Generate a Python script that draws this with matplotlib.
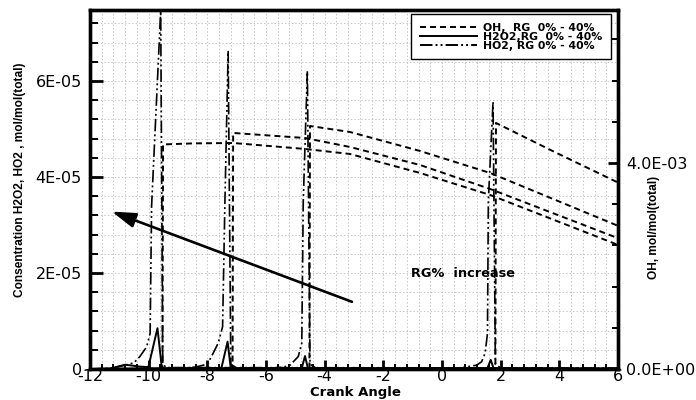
import matplotlib
matplotlib.use("Agg")
import matplotlib.pyplot as plt
from matplotlib.ticker import MultipleLocator, FixedLocator
from matplotlib.lines import Line2D
from matplotlib.patches import ArrowStyle

plt.rcParams['font.family'] = ['DejaVu Sans']
plt.rcParams['axes.unicode_minus'] = False
plt.rcParams['lines.scale_dashes'] = False

# ---------------- data ----------------
# HO2 (left axis), four RG cases
ho2_x_a = [-12, -11.3, -10.8, -10.5, -10.3, -10.07, -9.95, -9.90, -9.59, -9.52, -9.4, 6]
ho2_y_a = [0, 0.15e-6, 0.8e-6, 1.3e-6, 2.6e-6, 4.6e-6, 7.4e-6, 3.4e-5, 7.46e-5, 1.0e-6, 0.3e-6, 0.2e-6]
ho2_x_b = [-12, -9.0, -8.4, -8.0, -7.80, -7.63, -7.48, -7.40, -7.29, -7.20, -7.0, 6]
ho2_y_b = [0, 0.1e-6, 0.4e-6, 1.0e-6, 3.3e-6, 5.4e-6, 8.8e-6, 3.5e-5, 6.63e-5, 1.0e-6, 0.2e-6, 0.1e-6]
ho2_x_c = [-12, -6.0, -5.4, -5.18, -4.90, -4.78, -4.73, -4.59, -4.50, -4.3, 6]
ho2_y_c = [0, 0.1e-6, 0.4e-6, 0.8e-6, 2.6e-6, 5.4e-6, 3.5e-5, 6.21e-5, 1.0e-6, 0.2e-6, 0.1e-6]
ho2_x_d = [-12, 0.0, 0.6, 1.18, 1.35, 1.47, 1.55, 1.58, 1.74, 1.82, 2.0, 6]
ho2_y_d = [0, 0.05e-6, 0.2e-6, 0.8e-6, 1.5e-6, 3.3e-6, 7.4e-6, 3.5e-5, 5.57e-5, 1.0e-6, 0.2e-6, 0.1e-6]

# H2O2 (left axis)
h2o2_x_a = [-12, -11.3, -10.8, -10.3, -10.01, -9.70, -9.55, -9.3, 6]
h2o2_y_a = [0, 0.1e-6, 0.9e-6, 0.5e-6, 0.4e-6, 8.5e-6, 0.2e-6, 0, 0]
h2o2_x_b = [-12, -7.52, -7.31, -7.20, 6]
h2o2_y_b = [0, 0.2e-6, 5.7e-6, 0.1e-6, 0]
h2o2_x_c = [-12, -4.78, -4.67, -4.57, 6]
h2o2_y_c = [0, 0.2e-6, 2.7e-6, 0.1e-6, 0]
h2o2_x_d = [-12, 1.55, 1.66, 1.76, 6]
h2o2_y_d = [0, 0.2e-6, 1.9e-6, 0.1e-6, 0]

# OH (right axis)
oh_x_a = [-12, -9.53, -9.51, -8.5, -7.12, -4.67, -3.14, -0.75, 1.64, 6.0]
oh_y_a = [0, 0, 4.36e-3, 4.38e-3, 4.388e-3, 4.272e-3, 4.175e-3, 3.806e-3, 3.379e-3, 2.41e-3]
oh_x_b = [-12, -7.14, -7.12, -4.67, -3.14, -0.75, 1.64, 6.0]
oh_y_b = [0, 0, 4.583e-3, 4.485e-3, 4.311e-3, 3.961e-3, 3.495e-3, 2.54e-3]
oh_x_c = [-12, -4.52, -4.50, -3.14, -0.75, 1.64, 6.0]
oh_y_c = [0, 0, 4.718e-3, 4.602e-3, 4.233e-3, 3.806e-3, 2.78e-3]
oh_x_d = [-12, 1.82, 1.84, 3.85, 6.0]
oh_y_d = [0, 0, 4.777e-3, 4.21e-3, 3.62e-3]

x_ticks = [-12, -10, -8, -6, -4, -2, 0, 2, 4, 6]
left_ticks = [0, 2e-5, 4e-5, 6e-5]
left_labels = ['0', '2E-05', '4E-05', '6E-05']
right_ticks = [0, 4e-3]
right_labels = ['0.0E+00', '4.0E-03']

legend_labels = ['OH,  RG  0% - 40%', 'H2O2,RG  0% - 40%', 'HO2, RG 0% - 40%']

# ---------------- styles ----------------
DASH = (0, (4.3, 2.9))
DDOT = (0, (9.0, 2.2, 1.4, 2.2, 1.4, 2.2))
LW = 1.4

fig = plt.figure(figsize=(6.96, 4.0), dpi=100)
ax = fig.add_axes([90/696, 31/400, 528/696, 359/400])
ax2 = ax.twinx()

ax.set_xlim(-12, 6)
ax.set_ylim(0, 7.48e-5)
ax2.set_ylim(0, 6.97e-3)

for xs, ys in [(h2o2_x_a, h2o2_y_a), (h2o2_x_b, h2o2_y_b), (h2o2_x_c, h2o2_y_c), (h2o2_x_d, h2o2_y_d)]:
    ax.plot(xs, ys, color='black', lw=LW, linestyle='-')
for xs, ys in [(ho2_x_a, ho2_y_a), (ho2_x_b, ho2_y_b), (ho2_x_c, ho2_y_c), (ho2_x_d, ho2_y_d)]:
    ax.plot(xs, ys, color='black', lw=1.2, linestyle=DDOT)
for xs, ys in [(oh_x_a, oh_y_a), (oh_x_b, oh_y_b), (oh_x_c, oh_y_c), (oh_x_d, oh_y_d)]:
    ax2.plot(xs, ys, color='black', lw=LW, linestyle=DASH)

# ticks
ax.xaxis.set_major_locator(FixedLocator(x_ticks))
ax.xaxis.set_minor_locator(MultipleLocator(0.4))
ax.set_xticklabels([str(v) for v in x_ticks])
ax.yaxis.set_major_locator(FixedLocator(left_ticks))
ax.yaxis.set_minor_locator(MultipleLocator(0.4e-5))
ax.set_yticklabels(left_labels)
ax2.yaxis.set_major_locator(FixedLocator(right_ticks))
ax2.yaxis.set_minor_locator(MultipleLocator(0.8e-3))
ax2.set_yticklabels(right_labels)

ax.tick_params(axis='x', which='major', direction='in', length=6.5, width=2.0, labelsize=11.5, pad=0, top=False)
ax.tick_params(axis='x', which='minor', direction='in', length=3.6, width=1.4, top=False)
ax.tick_params(axis='y', which='major', direction='in', length=9.4, width=2.0, labelsize=11.5, pad=6, right=False)
ax.tick_params(axis='y', which='minor', direction='in', length=5.8, width=1.4, right=False)
ax2.tick_params(axis='y', which='major', direction='in', length=7.5, width=2.0, labelsize=11.5, pad=6)
ax2.tick_params(axis='y', which='minor', direction='in', length=4.2, width=1.4)

for a in (ax, ax2):
    for s in a.spines.values():
        s.set_linewidth(2.4)

ax.set_axisbelow(True)
ax.grid(which='both', axis='both', color='#c4c4c4', linestyle=(0, (1, 1.5)), linewidth=0.7)

# labels
ax.set_xlabel('Crank Angle', fontsize=9.5, fontweight='bold', va='center')
ax.xaxis.set_label_coords(0.502, -0.066)
ax.set_ylabel('Consentration H2O2, HO2 , mol/mol(total)', fontsize=8.6, fontweight='bold',
              family='Liberation Sans', va='center')
ax.yaxis.set_label_coords(-0.1326, 0.5265)
ax2.set_ylabel('OH, mol/mol(total)', fontsize=8.6, fontweight='bold', family='Liberation Sans',
               va='center', rotation=90)
ax2.yaxis.set_label_coords(1.068, 0.393)

# arrow and annotation
ax.annotate('', xy=(-11.26, 3.28e-5), xytext=(-3.07, 1.40e-5),
            arrowprops=dict(arrowstyle=ArrowStyle('-|>', head_length=1.44, head_width=0.45),
                            mutation_scale=10, lw=1.9, color='black', shrinkA=0, shrinkB=0))
ax.text(0.70, 2.0e-5, 'RG%  increase', fontsize=9.3, fontweight='bold', ha='center', va='center')

# legend
handles = [Line2D([], [], color='black', lw=LW, linestyle=DASH),
           Line2D([], [], color='black', lw=LW, linestyle='-'),
           Line2D([], [], color='black', lw=LW, linestyle=DDOT)]
leg = ax2.legend(handles, legend_labels, loc='upper right', bbox_to_anchor=(0.9867, 0.988),
                 borderaxespad=0, fancybox=False, framealpha=1, edgecolor='black',
                 prop={'size': 7.8, 'weight': 'bold'}, handlelength=5.3, handletextpad=0.55,
                 labelspacing=-0.1, borderpad=0.8)
leg.get_frame().set_linewidth(1.0)

fig.savefig('out.png', dpi=100)
